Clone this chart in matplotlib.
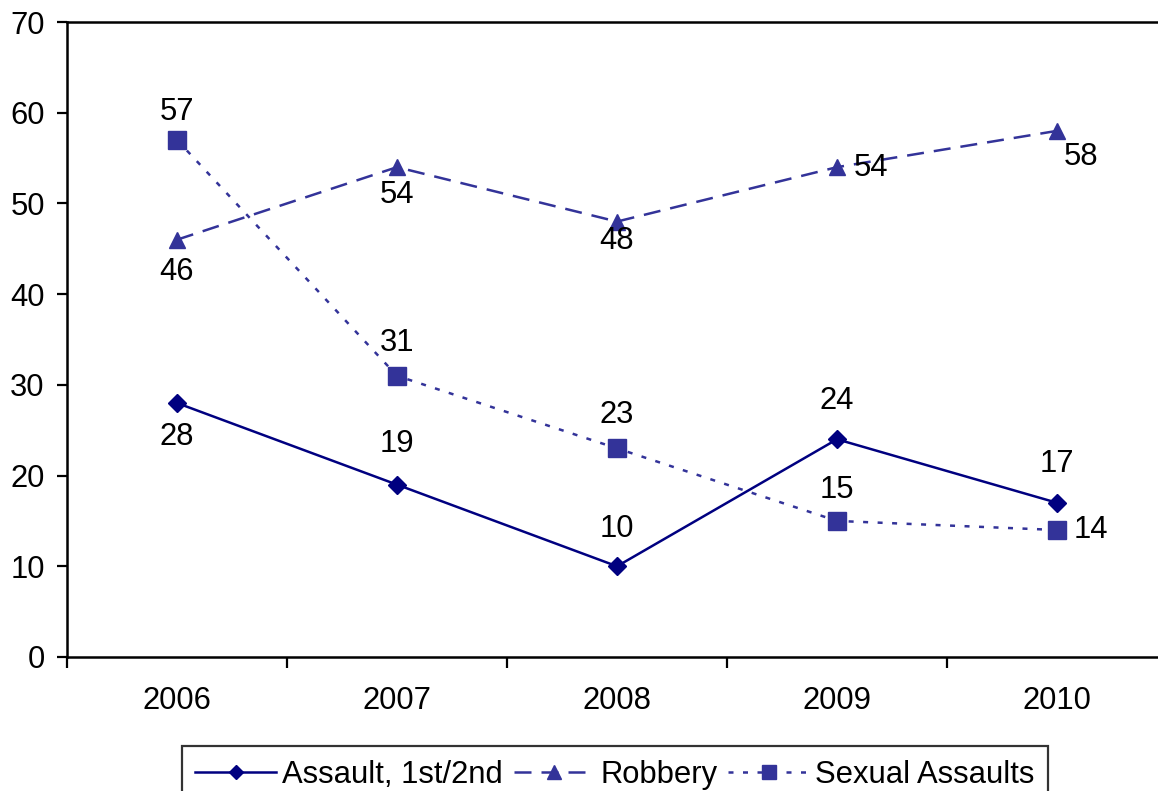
import matplotlib
matplotlib.use("Agg")
import matplotlib.pyplot as plt

years = ["2006", "2007", "2008", "2009", "2010"]
assault = [28, 19, 10, 24, 17]
robbery = [46, 54, 48, 54, 58]
sexual = [57, 31, 23, 15, 14]

# label offsets in pixels (dx, dy) relative to the point (screen px, y up)
assault_off = [(0, -34), (0, 41), (0, 37), (0, 38), (0, 39)]
robbery_off = [(0, -32), (0, -28), (0, -19), (34, -1), (24, -26)]
sexual_off = [(0, 28), (0, 33), (0, 33), (0, 31), (34, 0)]

plt.rcParams['font.family'] = ['Liberation Sans', 'DejaVu Sans']
FS = 22.3

fig = plt.figure(figsize=(11.58, 7.91), dpi=100)
ax = fig.add_axes([67/1158, 1 - 657/791, 1100/1158, 635/791])

x = list(range(len(years)))
l1, = ax.plot(x, assault, color='#000080', lw=1.8, marker='D', ms=9.5,
              label='Assault, 1st/2nd', clip_on=False)
l2, = ax.plot(x, robbery, color='#333399', lw=1.8, marker='^', ms=12,
              dashes=(6.8, 4), label='Robbery', clip_on=False)
l3, = ax.plot(x, sexual, color='#333399', lw=1.8, marker='s', ms=12.5,
              dashes=(2, 3.8), label='Sexual Assaults', clip_on=False)

for vals, offs in ((assault, assault_off), (robbery, robbery_off), (sexual, sexual_off)):
    for i, (v, (dx, dy)) in enumerate(zip(vals, offs)):
        ax.annotate(str(v), (i, v), xytext=(dx * 0.72, dy * 0.72),
                    textcoords='offset points', ha='center', va='center',
                    fontsize=FS, color='black')

ax.set_xlim(-0.5, 4.5)
ax.set_ylim(0, 70)
ax.set_yticks(range(0, 71, 10))
ax.set_xticks([i - 0.5 for i in range(6)], minor=False)
ax.set_xticklabels([])
ax.set_xticks(x, minor=True)
ax.set_xticklabels(years, minor=True)
ax.tick_params(axis='x', which='minor', length=0, pad=21, labelsize=FS)
ax.tick_params(axis='x', which='major', length=8, width=1.6, direction='out')
ax.tick_params(axis='y', length=7, width=1.6, direction='out', labelsize=FS, pad=9)
for s in ax.spines.values():
    s.set_linewidth(1.8)

leg = fig.legend(handles=[l1, l2, l3], loc='upper center',
                 bbox_to_anchor=(615/1158, 1 - 746/791), ncol=3,
                 fontsize=FS, frameon=True, fancybox=False, edgecolor='black',
                 handlelength=2.6, handletextpad=0.2, columnspacing=0.35,
                 borderpad=0.45, borderaxespad=0, markerscale=0.8)
leg.get_frame().set_linewidth(1.6)

fig.savefig('out.png', dpi=100)
